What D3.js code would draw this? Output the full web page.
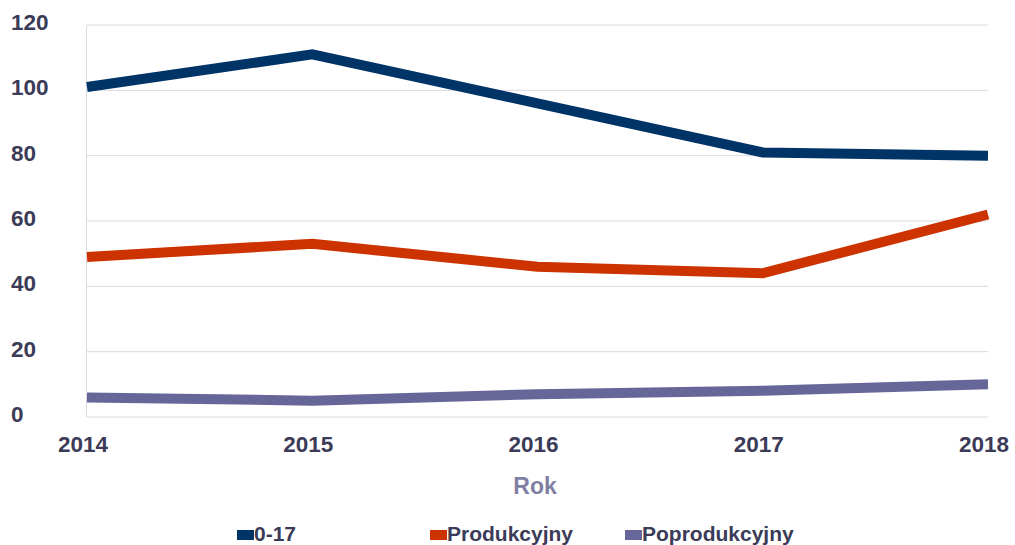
<!DOCTYPE html>
<html><head><meta charset="utf-8">
<script src="https://cdn.jsdelivr.net/npm/d3@7"></script>
<style>body{margin:0;background:#fff}svg{display:block}text{font-family:"Liberation Sans",Arial,sans-serif;font-weight:bold}</style>
</head><body><svg id="c" width="1015" height="545"></svg>
<script>
const years = [2014, 2015, 2016, 2017, 2018];
const yTicks = [0, 20, 40, 60, 80, 100, 120];
const s017 = [101, 111, 96, 81, 80];
const sProd = [49, 53, 46, 44, 62];
const sPoprod = [6, 5, 7, 8, 10];
const seriesNames = ["0-17", "Produkcyjny", "Poprodukcyjny"];
const colors = ["#003366", "#cc3300", "#666699"];
const xTitle = "Rok";

const svg = d3.select("#c");
const x = d3.scalePoint().domain(years).range([87, 988]);
const y = d3.scaleLinear().domain([0, 120]).range([417, 25]);

// grid
svg.append("g").selectAll("line").data(yTicks).join("line")
  .attr("x1", 87).attr("x2", 988)
  .attr("y1", d => y(d)).attr("y2", d => y(d))
  .attr("stroke", "#d9d9e3").attr("stroke-width", 1);
svg.append("line").attr("x1", 86.5).attr("x2", 86.5).attr("y1", y(120)).attr("y2", y(0))
  .attr("stroke", "#d9d9e3");

// y labels
svg.append("g").selectAll("text").data(yTicks).join("text")
  .attr("x", 11).attr("y", d => y(d) + 5)
  .attr("font-size", 22.5).attr("fill", "#3b3b58").text(d => d);

// x labels
svg.append("g").selectAll("text").data(years).join("text")
  .attr("x", d => x(d) - 4).attr("y", 452).attr("text-anchor", "middle")
  .attr("font-size", 22.5).attr("fill", "#3b3b58").text(d => d);

svg.append("text").attr("x", 535).attr("y", 494).attr("text-anchor", "middle")
  .attr("font-size", 23).attr("fill", "#7f7fa3").text(xTitle);

// lines
const data = [s017, sProd, sPoprod];
const line = d3.line().x((d, i) => x(years[i])).y(d => y(d));
data.forEach((s, k) => {
  svg.append("path").attr("d", line(s)).attr("fill", "none")
    .attr("stroke", colors[k]).attr("stroke-width", 10)
    .attr("stroke-linejoin", "miter").attr("stroke-linecap", "butt");
});

// legend
const legX = [237, 430, 625];
seriesNames.forEach((n, k) => {
  svg.append("rect").attr("x", legX[k]).attr("y", 530).attr("width", 17).attr("height", 10)
    .attr("fill", colors[k]);
  svg.append("text").attr("x", legX[k] + 17).attr("y", 541).attr("font-size", 21)
    .attr("fill", "#3b3b58").text(n);
});
</script></body></html>
